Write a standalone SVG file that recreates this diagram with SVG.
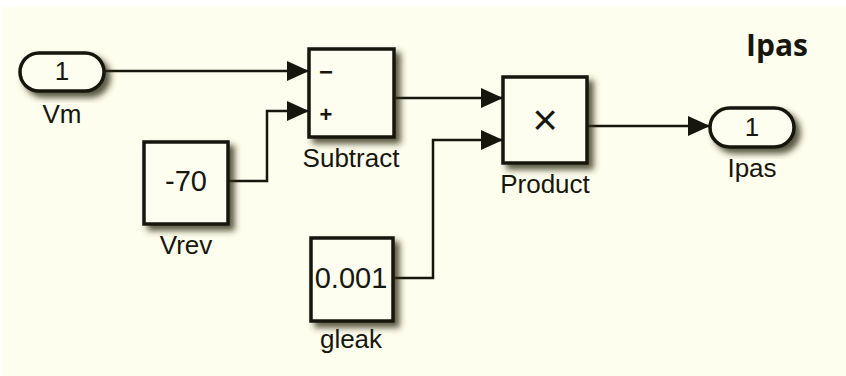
<svg xmlns="http://www.w3.org/2000/svg" width="846" height="376" viewBox="0 0 846 376">
<defs>
<filter id="sh" x="-20%" y="-20%" width="150%" height="150%">
<feGaussianBlur in="SourceAlpha" stdDeviation="3"/>
<feOffset dx="5" dy="5" result="b"/>
<feFlood flood-color="#2e2e18" flood-opacity="0.8"/>
<feComposite in2="b" operator="in"/>
<feMerge><feMergeNode/><feMergeNode in="SourceGraphic"/></feMerge>
</filter>
<marker id="arr" viewBox="0 0 22 20" refX="22" refY="10" markerWidth="22" markerHeight="20" markerUnits="userSpaceOnUse" orient="auto">
<path d="M0,0 L22,10 L0,20 Z" fill="#16160c"/>
</marker>
</defs>
<style>
.blk{fill:#fefef0;stroke:#16160c;stroke-width:3.5}
.ln{fill:none;stroke:#16160c;stroke-width:2.5}
.t{font-family:"Liberation Sans",Arial,sans-serif;font-size:26px;fill:#16160c;text-anchor:middle}
.v{font-family:"Liberation Sans",Arial,sans-serif;font-size:29px;fill:#16160c;text-anchor:middle}
.p{font-family:"Liberation Sans",Arial,sans-serif;font-size:26px;fill:#16160c;text-anchor:middle}
.title{font-family:"Open Sans","Liberation Sans",sans-serif;font-weight:700;font-size:30px;fill:#16160c;text-anchor:middle}
</style>
<rect width="846" height="376" fill="#ffffff"/>
<rect x="2" y="7" width="844" height="369" fill="#fefeee"/>
<text class="title" x="777" y="56">Ipas</text>
<g id="connectors">
<path class="ln" d="M104,71 H309" marker-end="url(#arr)"/>
<path class="ln" d="M228,181 H267 V111 H309" marker-end="url(#arr)"/>
<path class="ln" d="M394,98 H503" marker-end="url(#arr)"/>
<path class="ln" d="M393,278 H433 V140 H503" marker-end="url(#arr)"/>
<path class="ln" d="M587,126 H710" marker-end="url(#arr)"/>
</g>
<g id="Vm">
<rect class="blk" x="20" y="53" width="84" height="38" rx="19" filter="url(#sh)"/>
<text class="p" x="62" y="80">1</text>
<text class="t" x="62" y="123">Vm</text>
</g>
<g id="Vrev">
<rect class="blk" x="144" y="142" width="84" height="82" filter="url(#sh)"/>
<text class="v" x="186" y="191">-70</text>
<text class="t" x="186" y="254">Vrev</text>
</g>
<g id="Subtract">
<rect class="blk" x="309" y="49" width="85" height="88" filter="url(#sh)"/>
<text x="326" y="80" style="font-family:'Liberation Sans',sans-serif;font-size:24px;font-weight:700;fill:#16160c;text-anchor:middle">−</text>
<text x="326" y="122" style="font-family:'Liberation Sans',sans-serif;font-size:22px;font-weight:700;fill:#16160c;text-anchor:middle">+</text>
<text class="t" x="351" y="167">Subtract</text>
</g>
<g id="gleak">
<rect class="blk" x="311" y="238" width="82" height="83" filter="url(#sh)"/>
<text class="v" x="351" y="288">0.001</text>
<text class="t" x="351" y="348">gleak</text>
</g>
<g id="Product">
<rect class="blk" x="503" y="77" width="84" height="86" filter="url(#sh)"/>
<text x="545" y="135" style="font-family:'Liberation Sans',sans-serif;font-size:44px;fill:#16160c;text-anchor:middle">×</text>
<text class="t" x="545" y="193">Product</text>
</g>
<g id="Ipas">
<rect class="blk" x="710" y="108" width="84" height="39" rx="19.5" filter="url(#sh)"/>
<text class="p" x="752" y="136">1</text>
<text class="t" x="752" y="177">Ipas</text>
</g>
</svg>
